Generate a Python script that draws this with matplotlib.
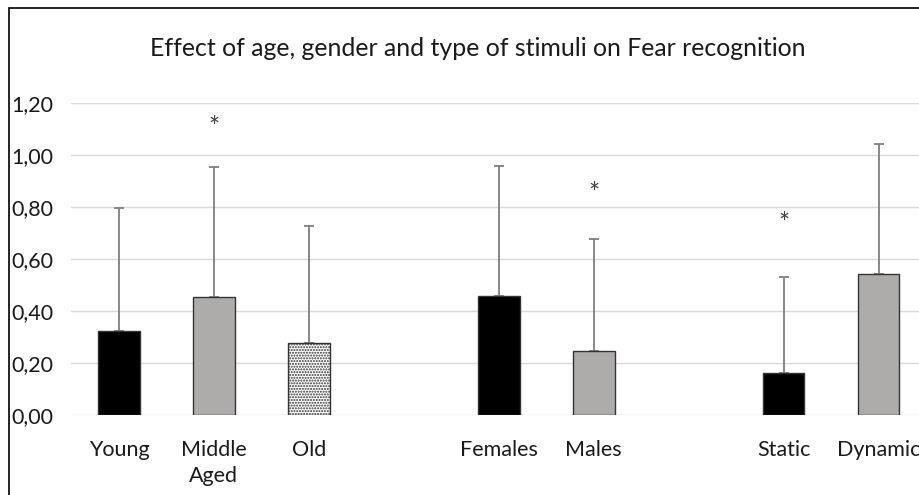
import numpy as np
import matplotlib
matplotlib.use("Agg")
import matplotlib.pyplot as plt
from matplotlib.patches import Rectangle
from matplotlib.ticker import FuncFormatter

categories = ["Young", "Middle\nAged", "Old", "", "Females", "Males", "", "Static", "Dynamic"]
means = [0.324, 0.454, 0.277, np.nan, 0.460, 0.245, np.nan, 0.163, 0.542]
upper_err = [0.471, 0.499, 0.450, np.nan, 0.499, 0.431, np.nan, 0.369, 0.500]
fills = ["#000000", "#AEABAB", "#FFFFFF", "none", "#000000", "#AEABAB", "none", "#000000", "#AEABAB"]
hatches = [None, None, "......", None, None, None, None, None, None]
star_cats = ["Middle\nAged", "Males", "Static"]
star_y = [1.128, 0.874, 0.760]
yticks = [0.0, 0.2, 0.4, 0.6, 0.8, 1.0, 1.2]
title = "Effect of age, gender and type of stimuli on Fear recognition"

plt.rcParams['font.family'] = ['Lato', 'DejaVu Sans']
plt.rcParams['hatch.linewidth'] = 1.0
plt.rcParams['hatch.color'] = '#333333'

W, H = 920, 495
fig = plt.figure(figsize=(W / 100, H / 100), dpi=100)
ax_left, ax_right, ax_bot, ax_top = 71.5, 926, 415, 103.3
ax = fig.add_axes([ax_left / W, (H - ax_bot) / H, (ax_right - ax_left) / W, (ax_bot - ax_top) / H])

x = np.arange(len(categories))
for i in range(len(categories)):
    if np.isnan(means[i]):
        continue
    ax.bar(x[i], means[i], width=0.44, color=fills[i], edgecolor='#333333',
           linewidth=1.0, hatch=hatches[i], zorder=3)
    ax.errorbar(x[i], means[i], yerr=[[0], [upper_err[i]]], fmt='none',
                ecolor='#7F7F7F', elinewidth=1.3, capsize=3.5, capthick=1.3, zorder=2)

for c, yv in zip(star_cats, star_y):
    ax.annotate("*", (categories.index(c), yv), xytext=(0, -5), textcoords='offset points',
                ha='center', va='center', fontsize=19, color='#404040')

ax.set_xlim(-0.5, len(categories) - 0.5)
ax.set_ylim(0, 1.2)
ax.set_yticks(yticks)
ax.yaxis.set_major_formatter(FuncFormatter(lambda v, p: f"{v:.2f}".replace('.', ',')))
ax.set_xticks(x)
ax.set_xticklabels(categories, linespacing=1.4)
ax.tick_params(axis='both', length=0, labelsize=15.5, colors='#1a1a1a')
ax.tick_params(axis='x', pad=18)
for lab in ax.get_yticklabels():
    lab.set_ha('left')
ax.tick_params(axis='y', pad=43)
ax.yaxis.grid(True, color='#D9D9D9', linewidth=1.0, zorder=0)
ax.set_axisbelow(True)
for s in ax.spines.values():
    s.set_visible(False)

fig.text(478 / W, (H - 48) / H, title, ha='center', va='center', fontsize=17.9, color='#1a1a1a')

fig.add_artist(Rectangle((9 / W, -0.1), 1.2, 1.1 - 8 / H, transform=fig.transFigure,
                         fill=False, edgecolor='#000000', linewidth=1.2, clip_on=False))

fig.savefig("out.png", dpi=100)
